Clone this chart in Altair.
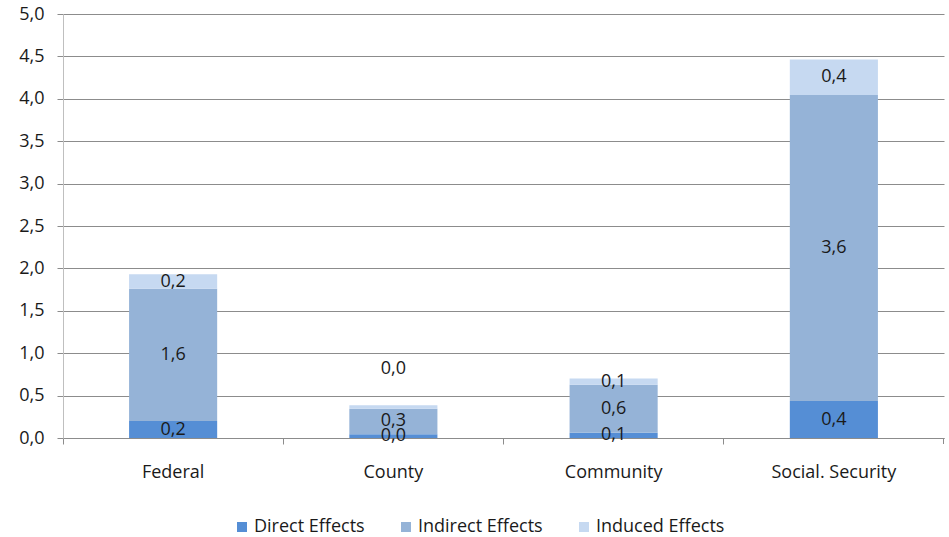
import altair as alt
import pandas as pd

categories = ["Federal", "County", "Community", "Social. Security"]
series = ["Direct Effects", "Indirect Effects", "Induced Effects"]
direct = [0.20, 0.045, 0.063, 0.436]
indirect = [1.56, 0.30, 0.566, 3.61]
induced = [0.17, 0.04, 0.074, 0.416]
colors = ["#558ED5", "#95B3D7", "#C6D9F1"]
y_ticks = [0, 0.5, 1, 1.5, 2, 2.5, 3, 3.5, 4, 4.5, 5]

rows = []
for i, c in enumerate(categories):
    for k, (s, vals) in enumerate(zip(series, [direct, indirect, induced])):
        rows.append({"category": c, "series": s, "value": vals[i], "order": k})
df = pd.DataFrame(rows)

FONT = "Open Sans"
FS = 18
TXT = "#1a1a1a"
comma = "replace(format(datum.value, '.1f'), '.', ',')"

base = alt.Chart(df).transform_stack(
    stack="value", groupby=["category"], as_=["y0", "y1"],
    sort=[alt.SortField("order", order="ascending")]
)

xenc = alt.X("category:N", sort=categories, title=None,
             scale=alt.Scale(paddingInner=0, paddingOuter=0),
             axis=alt.Axis(labelAngle=0, bandPosition=0, tickSize=6, labelPadding=19, grid=False,
                           domainColor="#8c8c8c", tickColor="#8c8c8c",
                           labelFont=FONT, labelFontSize=FS, labelColor=TXT))
yscale = alt.Scale(domain=[0, 5], nice=False)

bars = base.mark_bar(width=alt.RelativeBandSize(0.4)).encode(
    x=xenc,
    y=alt.Y("y0:Q", scale=yscale, title=None,
            axis=alt.Axis(values=y_ticks, labelExpr=comma, tickSize=6, labelPadding=13, grid=True,
                          gridColor="#8c8c8c", tickColor="#8c8c8c", domainColor="#bfbfbf",
                          labelFont=FONT, labelFontSize=FS, labelColor=TXT)),
    y2="y1:Q",
    color=alt.Color("series:N", sort=series,
                    scale=alt.Scale(domain=series, range=colors),
                    legend=alt.Legend(title=None, orient="none", direction="horizontal",
                                      legendX=170, legendY=504, columns=3, gridAlign="each",
                                      columnPadding=32, symbolType="square", symbolSize=100,
                                      symbolStrokeWidth=0, labelOffset=3, labelFont=FONT,
                                      labelFontSize=FS, labelColor=TXT, padding=0)),
)

labeled = base.transform_calculate(
    mid="(datum.y0 + datum.y1) / 2",
    label="replace(format(datum.value, '.1f'), '.', ',')",
)

is_special = "datum.category == 'County' && datum.series == 'Induced Effects'"

text_main = labeled.transform_filter("!(" + is_special + ")").mark_text(
    font=FONT, fontSize=FS, color=TXT, baseline="middle"
).encode(x=alt.X("category:N", sort=categories), y=alt.Y("mid:Q", scale=yscale), text="label:N")

text_special = labeled.transform_filter(is_special).mark_text(
    font=FONT, fontSize=FS, color=TXT, baseline="middle", dy=-38
).encode(x=alt.X("category:N", sort=categories), y=alt.Y("mid:Q", scale=yscale), text="label:N")

end_tick = alt.Chart(df).mark_rule(color="#8c8c8c").encode(
    x=alt.value(880.5), y=alt.value(424), y2=alt.value(430)
)

chart = alt.layer(bars, text_main, text_special, end_tick).properties(
    width=881, height=424, autosize="none",
    padding={"left": 63, "top": 14, "right": 5, "bottom": 99},
    background="white",
).configure_view(stroke=None)

chart.save("out.html", embed_options={"renderer": "svg", "actions": False})
